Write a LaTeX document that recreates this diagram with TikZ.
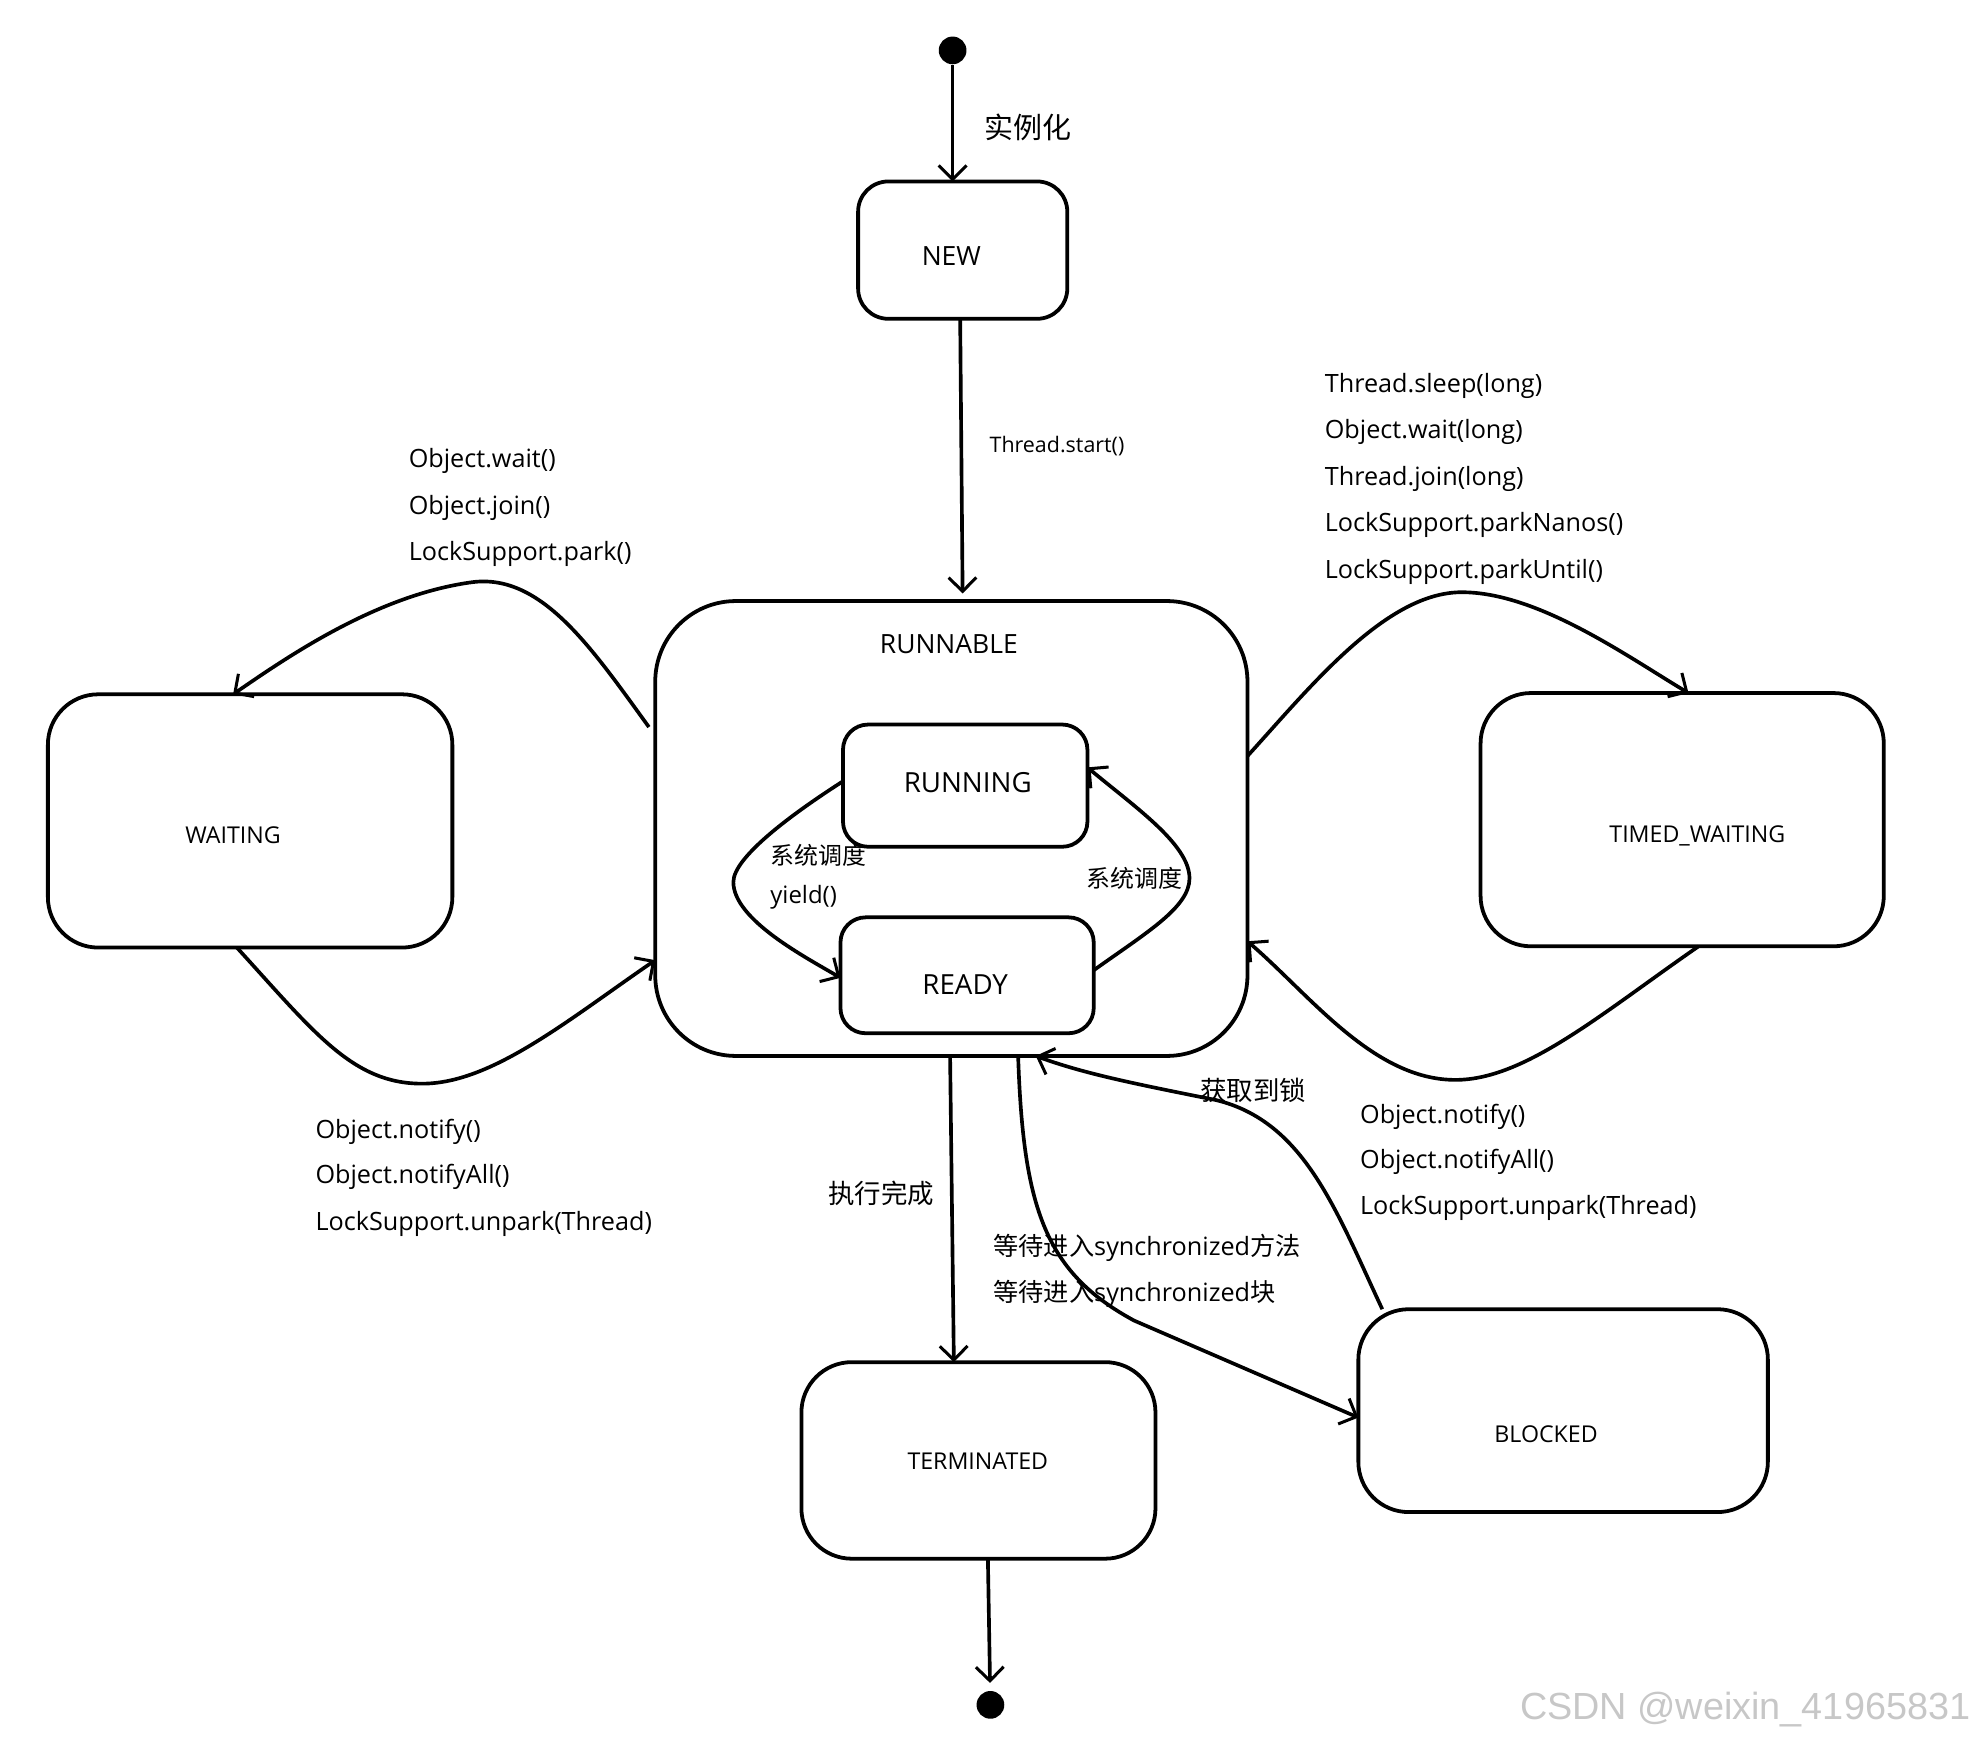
\documentclass[tikz,border=0pt]{standalone}
\usepackage{fontspec}
\setmainfont{Open Sans}
\newfontfamily\cjk{Noto Sans CJK SC}
\newfontfamily\wmfont{Liberation Sans}
\usetikzlibrary{arrows.meta,calc}
\begin{document}
\begin{tikzpicture}[x=0.5pt,y=-0.5pt,
  box/.style={draw,line width=1.5pt,rounded corners=#1,rectangle,outer sep=0pt,inner sep=0pt},
  box/.default=12pt,
  arr/.style={line width=1.45pt,-{Straight Barb[length=5.5pt,width=11pt,line width=1.2pt]}},
  lab/.style={anchor=west,inner sep=0pt,font=\fontsize{10}{12}\selectfont},
  clab/.style={inner sep=0pt,font=\cjk\fontsize{10.5}{12}\selectfont},
  stxt/.style={inner sep=0pt,font=\fontsize{9.2}{11}\selectfont},
  btxt/.style={inner sep=0pt,font=\fontsize{11}{12}\selectfont},
  dot/.style={circle,fill=black,inner sep=0pt,minimum size=11pt}]
\useasboundingbox (0,0) rectangle (1565,1381);
% states
\node[dot] (start) at (756,40) {};
\node[dot] (end) at (786,1353) {};
\node[box=12pt,minimum width=83pt,minimum height=54.5pt] (new) at (764,198.5) {};
\node[btxt,font=\fontsize{10.5}{12}\selectfont] (newt) at (755,203) {NEW};
\node[box=32pt,minimum width=235pt,minimum height=180.5pt] (runnable) at (755,657.5) {};
\node[btxt,font=\fontsize{10.5}{12}\selectfont] (runnablet) at (753,511) {RUNNABLE};
\node[box=10pt,minimum width=97pt,minimum height=48.5pt] (running) at (766,623.5) {};
\node[btxt] (runningt) at (768,621) {RUNNING};
\node[box=10pt,minimum width=100.5pt,minimum height=46pt] (ready) at (767.5,774) {};
\node[btxt] (readyt) at (766,781) {READY};
\node[box=20pt,minimum width=160.5pt,minimum height=100.5pt] (waiting) at (198.5,651.5) {};
\node[stxt] (waitingt) at (185,663) {WAITING};
\node[box=20pt,minimum width=160pt,minimum height=100.5pt] (timed) at (1335,650.5) {};
\node[stxt] (timedt) at (1347,663) {TIMED\_WAITING};
\node[box=20pt,minimum width=140.5pt,minimum height=78pt] (term) at (776.5,1159) {};
\node[stxt] (termt) at (776,1160) {TERMINATED};
\node[box=20pt,minimum width=162.5pt,minimum height=80.5pt] (blocked) at (1240.5,1119.5) {};
\node[stxt] (blockedt) at (1227,1138) {BLOCKED};
% connectors
\draw[arr] (start) -- (start |- new.north);
\draw[arr,shorten >=3pt] (new.south -| 762,0) -- (runnable.north -| 764,0);
\draw[arr] (runnable.west |- 0,577) ++(-5,0) .. controls (470,515) and (430,455) .. (375,462)
   .. controls (300,472) and (230,520) .. (waiting.north -| 185,0);
\draw[arr] (waiting.south -| 188,0) .. controls (250,820) and (280,860) .. (335,860)
   .. controls (390,860) and (450,810) .. (runnable.west |- 0,762);
\draw[arr] (runnable.east |- 0,600) .. controls (1040,545) and (1100,470) .. (1160,470)
   .. controls (1220,470) and (1290,520) .. (timed.north -| 1340,0);
\draw[arr] (timed.south -| 1348,0) .. controls (1270,805) and (1210,857) .. (1155,857)
   .. controls (1090,857) and (1040,790) .. (runnable.east |- 0,747);
\draw[arr] (runnable.south -| 754,0) -- (term.north -| 757,0);
\draw[arr] (runnable.south -| 808,0) .. controls (812,960) and (830,1010) .. (900,1048)
   -- (blocked.west |- 0,1125);
\draw[arr] (blocked.north -| 1097,0) .. controls (1060,960) and (1035,890) .. (965,873)
   .. controls (900,860) and (860,852) .. (runnable.south -| 822,0);
\draw[arr] (running.west |- 0,620) .. controls (630,645) and (582,680) .. (582,700)
   .. controls (582,730) and (640,760) .. (ready.west |- 0,776);
\draw[arr] (ready.east |- 0,770) .. controls (910,740) and (944,720) .. (944,697)
   .. controls (944,670) and (900,640) .. (running.east |- 0,609);
\draw[arr,shorten >=3pt] (term.south -| 784,0) -- (end);
% labels
\node[clab,anchor=west,font=\cjk\fontsize{11.5}{12}\selectfont] (l1) at (781,101) {实例化};
\node[lab,font=\fontsize{8.5}{10}\selectfont] (l2) at (785,354) {Thread.start()};
\node[lab] (w1) at (324,366) {Object.wait()};
\node[lab] (w2) at (324,403) {Object.join()};
\node[lab] (w3) at (324,440) {LockSupport.park()};
\node[lab] (n1) at (250,898) {Object.notify()};
\node[lab] (n2) at (250,934) {Object.notifyAll()};
\node[lab] (n3) at (250,971) {LockSupport.unpark(Thread)};
\node[lab] (t1) at (1051,306) {Thread.sleep(long)};
\node[lab] (t2) at (1051,343) {Object.wait(long)};
\node[lab] (t3) at (1051,380) {Thread.join(long)};
\node[lab] (t4) at (1051,417) {LockSupport.parkNanos()};
\node[lab] (t5) at (1051,454) {LockSupport.parkUntil()};
\node[lab] (m1) at (1079,886) {Object.notify()};
\node[lab] (m2) at (1079,922) {Object.notifyAll()};
\node[lab] (m3) at (1079,959) {LockSupport.unpark(Thread)};
\node[clab,anchor=west,font=\cjk\fontsize{9.5}{12}\selectfont] (s1) at (611,679) {系统调度};
\node[lab,font=\fontsize{9.5}{12}\selectfont] (s2) at (611,712) {yield()};
\node[clab,anchor=west,font=\cjk\fontsize{9.5}{12}\selectfont] (s3) at (862,697) {系统调度};
\node[clab,anchor=west] (e1) at (657,947) {执行完成};
\node[clab,anchor=west] (g1) at (952,865) {获取到锁};
\node[lab] (b1) at (788,990) {{\cjk 等待进入}synchronized{\cjk 方法}};
\node[lab] (b2) at (788,1027) {{\cjk 等待进入}synchronized{\cjk 块}};
\node[anchor=east,inner sep=0pt,text=black!22,font=\wmfont\fontsize{15}{16}\selectfont] (wm) at (1564,1357) {CSDN @weixin\_41965831};
\end{tikzpicture}
\end{document}
